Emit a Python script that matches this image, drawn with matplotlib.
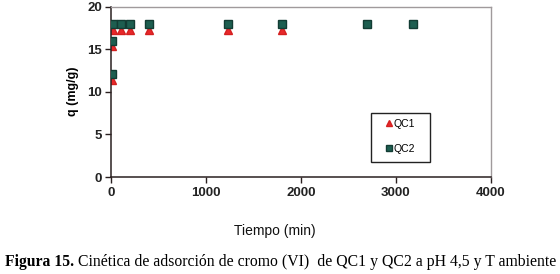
import matplotlib
matplotlib.use("Agg")
import matplotlib.pyplot as plt
from matplotlib.patches import Rectangle

# Data
t_qc1 = [5, 10, 20, 100, 200, 400, 1230, 1800]
q_qc1 = [11.4, 15.4, 17.3, 17.3, 17.3, 17.3, 17.3, 17.3]
t_qc2 = [5, 10, 20, 100, 200, 400, 1230, 1800, 2700, 3180]
q_qc2 = [12.1, 16.0, 18.0, 18.0, 18.0, 18.0, 18.0, 18.0, 18.0, 18.0]
series_labels = ["QC1", "QC2"]
x_ticks = [0, 1000, 2000, 3000, 4000]
y_ticks = [0, 5, 10, 15, 20]
x_label = "Tiempo (min)"
y_label = "q (mg/g)"
caption_bold = "Figura 15."
caption_rest = " Cinética de adsorción de cromo (VI)  de QC1 y QC2 a pH 4,5 y T ambiente"

plt.rcParams['font.family'] = ['Liberation Sans', 'DejaVu Sans']

W, H = 560, 274
fig = plt.figure(figsize=(W/100, H/100), dpi=100)
ax = fig.add_axes([111.5/W, 1-177/H, 379/W, 170.5/H])

ax.plot(t_qc1, q_qc1, linestyle='none', marker='^', markersize=5.5,
        color='#e8282a', markeredgecolor='#d42020', label=series_labels[0], zorder=2)
ax.plot(t_qc2, q_qc2, linestyle='none', marker='s', markersize=5.5,
        color='#1d5e50', markeredgecolor='#123c33', label=series_labels[1], zorder=3)

ax.set_xlim(0, 4000)
ax.set_ylim(0, 20)
ax.set_xticks(x_ticks)
ax.set_yticks(y_ticks)
for lab in ax.get_xticklabels() + ax.get_yticklabels():
    lab.set_fontweight('bold')
    lab.set_fontsize(9.5)
    lab.set_color('#222222')
ax.tick_params(axis='both', direction='out', length=4, width=1, color='#2a2020', pad=3)

for s in ['left', 'bottom']:
    ax.spines[s].set_color('#2a2020')
    ax.spines[s].set_linewidth(1.1)
for s in ['top', 'right']:
    ax.spines[s].set_color('#a09a9c')
    ax.spines[s].set_linewidth(1.0)

ax.set_ylabel(y_label, fontsize=9, fontweight='bold', labelpad=6)
fig.text(275/W, 1-231/H, x_label, fontsize=10, ha='center', va='center', color='#111111')

# Legend box (frame drawn as rectangle)
def px_to_ax(x, y):
    return (x-111.5)/379, 1-(y-6.5)/170.5
x0, y0 = px_to_ax(370.7, 162.3)
x1, y1 = px_to_ax(430, 113.3)
ax.add_patch(Rectangle((x0, y0), x1-x0, y1-y0, transform=ax.transAxes,
                       facecolor='white', edgecolor='#222222', linewidth=1.0,
                       zorder=4, clip_on=False))
lx, ly = px_to_ax(384.8, 119.0)
leg = ax.legend(loc='upper left', bbox_to_anchor=(lx, ly), fontsize=7.5,
                frameon=False, handlelength=0.8, handletextpad=0.0,
                labelspacing=1.45, borderpad=0, borderaxespad=0, markerscale=0.75)
leg.set_zorder(5)

# Caption
cap_y = 1 - 262/H
tb = fig.text(5/W, cap_y, caption_bold, fontsize=11.3, fontweight='bold',
              family=['Liberation Serif'], ha='left', va='center')
fig.canvas.draw()
bb = tb.get_window_extent()
fig.text(bb.x1/W, cap_y, caption_rest, fontsize=11.3,
         family=['Liberation Serif'], ha='left', va='center')

fig.savefig("out.png", dpi=100)
